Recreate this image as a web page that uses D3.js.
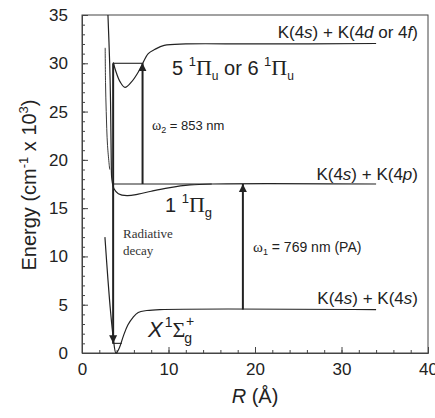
<!DOCTYPE html>
<html><head><meta charset="utf-8">
<script src="https://cdn.jsdelivr.net/npm/d3@7"></script>
<style>
body{margin:0;background:#fff;}
svg{display:block;}
</style></head>
<body>
<svg id="c" width="435" height="418" font-family="Liberation Sans, Arial, sans-serif"></svg>
<script>
// ---- data ----
const xTicks = [0, 10, 20, 30, 40];
const xMinor = d3.range(0, 41, 2);
const yTicks = [0, 5, 10, 15, 20, 25, 30, 35];
const yMinor = d3.range(0, 36, 1);

// ground state X 1Σg+
const groundR = [2.65, 3.0, 3.3, 3.6, 3.93, 4.3, 4.8, 5.3, 5.9, 6.5, 7.5, 9, 34];
const groundE = [12, 7.6, 4.3, 1.7, 0.0, 0.5, 1.8, 2.9, 3.7, 4.2, 4.4, 4.5, 4.5];
// 1 1Πg
const pigR = [3.0, 3.2, 3.3, 3.38, 3.45, 3.7, 4.2, 5.2, 6.5, 8.0, 10, 12.5, 15, 34];
const pigE = [35, 30, 26, 20, 18, 17.0, 16.5, 16.3, 16.45, 16.75, 17.1, 17.4, 17.5, 17.5];
// 5 1Πu / 6 1Πu well
const piuR = [3.62, 3.9, 4.39, 4.97, 5.75, 6.51, 6.97, 7.66, 8.44, 9.5, 12, 20, 34];
const piuE = [30.1, 29.2, 28.1, 27.5, 28.1, 29.1, 29.9, 31.0, 31.45, 31.85, 32.0, 32.0, 32.05];
// inner thin wall
const innerR = [2.68, 2.72, 2.8, 2.95, 3.2];
const innerE = [31.6, 28, 25, 21.5, 19];

// vibrational levels [R1, R2, E]
const levels = [[3.5, 4.6, 1.0], [3.6, 15, 17.5], [3.6, 7.0, 30]];
// arrows [R, Efrom, Eto]
const arrows = [[3.6, 30, 1.0], [7.0, 17.5, 30], [18.6, 4.5, 17.5]];

// ---- chart ----
const svg = d3.select("#c");
const x = d3.scaleLinear([0, 40], [82, 428]);
const y = d3.scaleLinear([0, 35], [353, 15]);
const ink = "#222";
const sans = "Liberation Sans, Arial, sans-serif";
const serif = "Liberation Serif, Times New Roman, serif";

svg.append("defs").append("marker")
  .attr("id","ah").attr("viewBox","0 0 10 10").attr("refX",10).attr("refY",5)
  .attr("markerWidth",8).attr("markerHeight",9).attr("markerUnits","userSpaceOnUse")
  .attr("orient","auto")
  .append("path").attr("d","M0,0 L10,5 L0,10 Z").attr("fill",ink);

// frame
svg.append("rect").attr("x",82).attr("y",15).attr("width",346).attr("height",338)
  .attr("fill","none").attr("stroke","#444").attr("stroke-width",1);

// axes
const gx = svg.append("g").attr("transform","translate(0,353)")
  .call(d3.axisBottom(x).tickValues(xTicks).tickSizeInner(-6).tickSizeOuter(0).tickPadding(10).tickFormat(d3.format("d")));
const gxm = svg.append("g").attr("transform","translate(0,353)")
  .call(d3.axisBottom(x).tickValues(xMinor).tickSizeInner(-3).tickSizeOuter(0).tickFormat(""));
const gy = svg.append("g").attr("transform","translate(82,0)")
  .call(d3.axisLeft(y).tickValues(yTicks).tickSizeInner(-6).tickSizeOuter(0).tickPadding(14).tickFormat(d3.format("d")));
const gym = svg.append("g").attr("transform","translate(82,0)")
  .call(d3.axisLeft(y).tickValues(yMinor).tickSizeInner(-3).tickSizeOuter(0).tickFormat(""));
[gx,gxm,gy,gym].forEach(g=>{g.select(".domain").attr("stroke","#444");g.selectAll("line").attr("stroke","#444");});
[gx,gy].forEach(g=>g.selectAll("text").attr("font-size",17).attr("fill","#222").attr("font-family",sans));

// curves
const lineC = d3.line().x(d=>x(d[0])).y(d=>y(d[1])).curve(d3.curveCatmullRom.alpha(0.5));
function draw(R,E,w){
  svg.append("path").datum(R.map((r,i)=>[r,E[i]])).attr("d",lineC)
    .attr("fill","none").attr("stroke",ink).attr("stroke-width",w);
}
draw(groundR, groundE, 1.2);
draw(pigR, pigE, 1.2);
draw(piuR, piuE, 1.2);
draw(innerR, innerE, 0.9);

levels.forEach(l=>svg.append("line").attr("x1",x(l[0])).attr("x2",x(l[1])).attr("y1",y(l[2])).attr("y2",y(l[2]))
  .attr("stroke",ink).attr("stroke-width",1.1));
arrows.forEach(a=>svg.append("line").attr("x1",x(a[0])).attr("x2",x(a[0])).attr("y1",y(a[1])).attr("y2",y(a[2]))
  .attr("stroke",ink).attr("stroke-width",2).attr("marker-end","url(#ah)"));

const T = (xx,yy,fs)=>svg.append("text").attr("x",xx).attr("y",yy).attr("font-size",fs).attr("fill","#222").attr("font-family",sans);

// axis titles
T(255,403,20).attr("text-anchor","middle")
  .call(t=>{t.append("tspan").attr("font-style","italic").text("R");t.append("tspan").text(" (Å)");});
svg.append("text").attr("transform","translate(36,185) rotate(-90)").attr("text-anchor","middle")
  .attr("font-size",20).attr("fill","#222").attr("font-family",sans)
  .call(t=>{
    t.append("tspan").text("Energy (cm");
    t.append("tspan").attr("font-size",13).attr("dy",-8).text("-1");
    t.append("tspan").attr("dy",8).text(" x 10");
    t.append("tspan").attr("font-size",13).attr("dy",-8).text("3");
    t.append("tspan").attr("dy",8).text(")");
  });

// labels
function kLabel(xe, yb, a, b){
  T(xe,yb,17).attr("text-anchor","end")
    .call(t=>{
      t.append("tspan").text("K(4");
      t.append("tspan").attr("font-style","italic").text(a[0]);
      t.append("tspan").text(") + K(4");
      t.append("tspan").attr("font-style","italic").text(b[0]);
      if(b.length>1){ t.append("tspan").text(" or 4"); t.append("tspan").attr("font-style","italic").text(b[1]); }
      t.append("tspan").text(")");
    });
}
kLabel(418, 38, ["s"], ["d","f"]);
kLabel(418, 180, ["s"], ["p"]);
kLabel(418, 304, ["s"], ["s"]);

T(172,75,20)
  .call(t=>{
    t.append("tspan").text("5 ");
    t.append("tspan").attr("font-size",13).attr("dy",-9).text("1");
    t.append("tspan").attr("dy",9).attr("font-family",serif).attr("font-size",22).text("Π");
    t.append("tspan").attr("font-size",12).attr("dy",5).text("u");
    t.append("tspan").attr("dy",-5).text(" or 6 ");
    t.append("tspan").attr("font-size",13).attr("dy",-9).text("1");
    t.append("tspan").attr("dy",9).attr("font-family",serif).attr("font-size",22).text("Π");
    t.append("tspan").attr("font-size",12).attr("dy",5).text("u");
  });
T(165,212,20)
  .call(t=>{
    t.append("tspan").text("1 ");
    t.append("tspan").attr("font-size",13).attr("dy",-9).text("1");
    t.append("tspan").attr("dy",9).attr("font-family",serif).attr("font-size",22).text("Π");
    t.append("tspan").attr("font-size",13).attr("dy",5).text("g");
  });
T(148,337,22)
  .call(t=>{
    t.append("tspan").attr("font-style","italic").text("X");
    t.append("tspan").attr("font-size",14).attr("dx",2).attr("dy",-10).text("1");
    t.append("tspan").attr("dy",10).attr("font-family",serif).text("Σ");
    t.append("tspan").attr("font-size",14).attr("dy",6).attr("dx",-1).text("g");
  });
T(186,326,14).text("+");
T(152,130,13)
  .call(t=>{
    t.append("tspan").attr("font-family",serif).attr("font-size",14).text("ω");
    t.append("tspan").attr("font-size",9).attr("dy",3).text("2");
    t.append("tspan").attr("dy",-3).text(" = 853 nm");
  });
T(253,252,14)
  .call(t=>{
    t.append("tspan").attr("font-family",serif).attr("font-size",15).text("ω");
    t.append("tspan").attr("font-size",9).attr("dy",3).text("1");
    t.append("tspan").attr("dy",-3).text(" = 769 nm (PA)");
  });
T(123,238,13).attr("font-family",serif).attr("fill","#333").text("Radiative");
T(123,255,13).attr("font-family",serif).attr("fill","#333").text("decay");
</script>
</body></html>
